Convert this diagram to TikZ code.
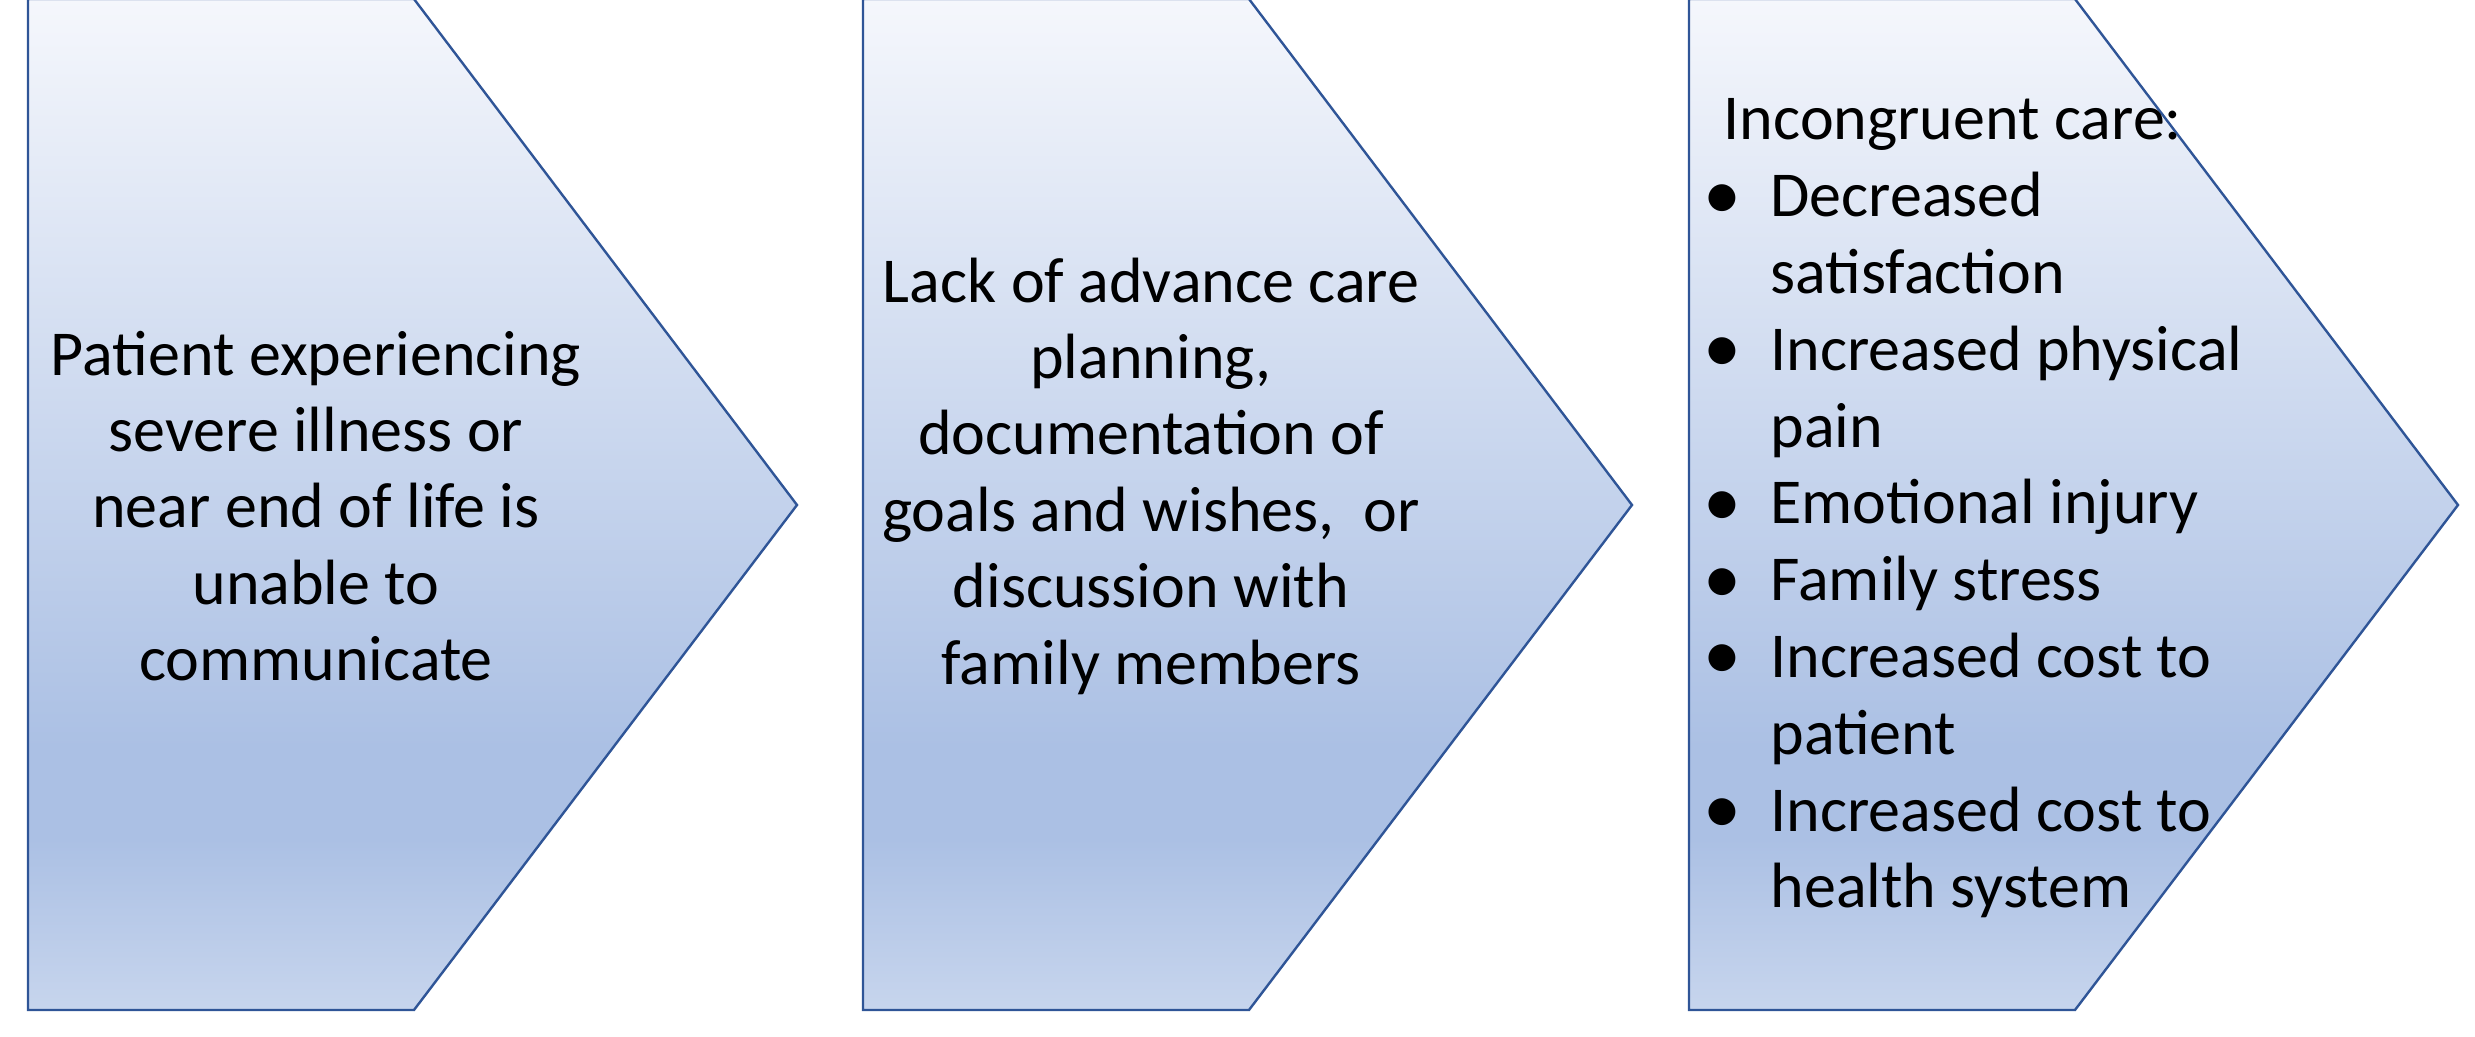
\documentclass[tikz,border=0pt]{standalone}
\usepackage{fontspec}
\setmainfont{Carlito}
\definecolor{edgeblue}{HTML}{2F5597}
\definecolor{gtop}{HTML}{F5F7FC}
\definecolor{gdeep}{HTML}{ABC0E4}
\definecolor{gbot}{HTML}{C7D5ED}
% light-to-deep vertical fill (inner 25bp..75bp band covers the path)
\pgfdeclareverticalshading{chevronfill}{100bp}{%
  color(0bp)=(gbot); color(25bp)=(gbot); color(33.5bp)=(gdeep);
  color(38bp)=(gdeep); color(75bp)=(gtop); color(100bp)=(gtop)}
\tikzset{
  chevron/.style={draw=edgeblue, line width=0.6pt, shading=chevronfill, line join=miter},
  bodytext/.style={font=\fontsize{16pt}{19.1pt}\selectfont, inner sep=0pt, align=center},
  listtext/.style={font=\fontsize{16pt}{19.2pt}\selectfont, inner sep=0pt, align=left, anchor=north west}
}
\newcommand{\bul}{\makebox[15.2pt][l]{\hspace*{-1.6pt}{\fontsize{19pt}{19.2pt}\selectfont\raisebox{-0.6pt}{\textbullet}}}}
\newcommand{\ind}{\hspace*{15.2pt}}
\begin{document}
\begin{tikzpicture}[x=0.25pt, y=-0.25pt]
  \useasboundingbox (0,0) rectangle (2475,1037);
  % three chevron-shaped arrows
  \foreach \x in {28, 863, 1689} {
    \path[chevron] (\x,-1) -- ++(386,0) -- ++(383,506) -- ++(-383,505) -- ++(-386,0) -- cycle;
  }
  \node[bodytext] (cause) at (316,506)
    {Patient experiencing\\severe illness or\\near end of life is\\unable to\\communicate};
  \node[bodytext] (gap) at (1151,476)
    {Lack of advance care\\planning,\\documentation of\\goals and wishes,~ or\\discussion with\\family members};
  \node[listtext] (effects) at (1709,98)
    {\hspace*{3.5pt}Incongruent care:\\
     \bul Decreased\\ \ind satisfaction\\
     \bul Increased physical\\ \ind pain\\
     \bul Emotional injury\\
     \bul Family stress\\
     \bul Increased cost to\\ \ind patient\\
     \bul Increased cost to\\ \ind health system};
\end{tikzpicture}
\end{document}
